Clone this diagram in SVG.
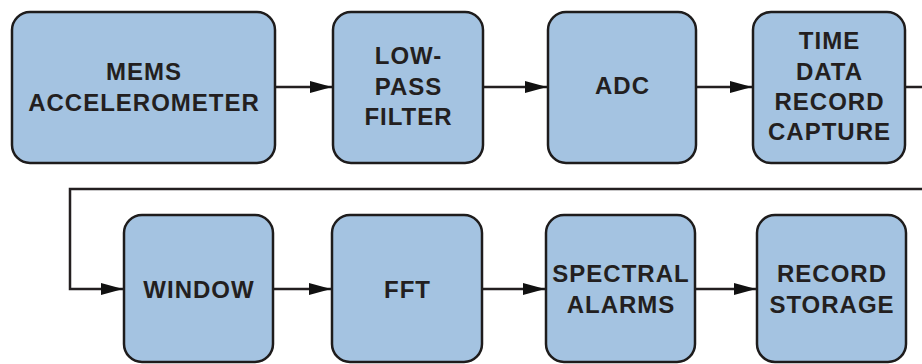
<svg xmlns="http://www.w3.org/2000/svg" width="922" height="364" viewBox="0 0 922 364">
<defs>
<style>
.box{fill:#a4c3e1;stroke:#1e1c1c;stroke-width:2.5}
.t{font-family:"Liberation Sans",Arial,sans-serif;font-weight:bold;font-size:24px;letter-spacing:1px;fill:#231f20;text-anchor:middle}
.c{fill:none;stroke:#231f20;stroke-width:2.5}
</style>
<marker id="ah" viewBox="0 0 22 12" refX="22" refY="6" markerUnits="userSpaceOnUse" markerWidth="22" markerHeight="12" orient="auto">
<path d="M0,0 L22,6 L0,12 Z" fill="#111"/>
</marker>
</defs>
<rect width="922" height="364" fill="#ffffff"/>
<g id="connectors">
<line class="c" x1="275" y1="87" x2="332" y2="87" marker-end="url(#ah)"/>
<line class="c" x1="483" y1="87" x2="547" y2="87" marker-end="url(#ah)"/>
<line class="c" x1="696" y1="87" x2="752" y2="87" marker-end="url(#ah)"/>
<polyline class="c" points="905,87 924,87"/>
<polyline class="c" points="924,189 70,189 70,289 123,289" marker-end="url(#ah)"/>
<line class="c" x1="273" y1="289" x2="331" y2="289" marker-end="url(#ah)"/>
<line class="c" x1="482" y1="289" x2="545" y2="289" marker-end="url(#ah)"/>
<line class="c" x1="695" y1="289" x2="756" y2="289" marker-end="url(#ah)"/>
</g>
<g id="mems">
<rect class="box" x="12" y="12" width="263" height="151" rx="18"/>
<text class="t" x="144" y="80">MEMS</text>
<text class="t" x="144" y="111">ACCELEROMETER</text>
</g>
<g id="lowpass">
<rect class="box" x="333" y="12" width="150" height="151" rx="18"/>
<text class="t" x="408.5" y="64">LOW-</text>
<text class="t" x="408.5" y="95">PASS</text>
<text class="t" x="408.5" y="125">FILTER</text>
</g>
<g id="adc">
<rect class="box" x="548" y="12" width="148" height="151" rx="18"/>
<text class="t" x="622.5" y="94">ADC</text>
</g>
<g id="timedata">
<rect class="box" x="753" y="12" width="152" height="151" rx="18"/>
<text class="t" x="829.5" y="49">TIME</text>
<text class="t" x="829.5" y="80">DATA</text>
<text class="t" x="829.5" y="110">RECORD</text>
<text class="t" x="829.5" y="140">CAPTURE</text>
</g>
<g id="window">
<rect class="box" x="124" y="215" width="149" height="147" rx="18"/>
<text class="t" x="199" y="298">WINDOW</text>
</g>
<g id="fft">
<rect class="box" x="332" y="215" width="150" height="147" rx="18"/>
<text class="t" x="407.5" y="298">FFT</text>
</g>
<g id="spectral">
<rect class="box" x="546" y="215" width="149" height="147" rx="18"/>
<text class="t" x="621" y="282">SPECTRAL</text>
<text class="t" x="621" y="313">ALARMS</text>
</g>
<g id="storage">
<rect class="box" x="757" y="215" width="149" height="147" rx="18"/>
<text class="t" x="832" y="282">RECORD</text>
<text class="t" x="832" y="313">STORAGE</text>
</g>
</svg>
